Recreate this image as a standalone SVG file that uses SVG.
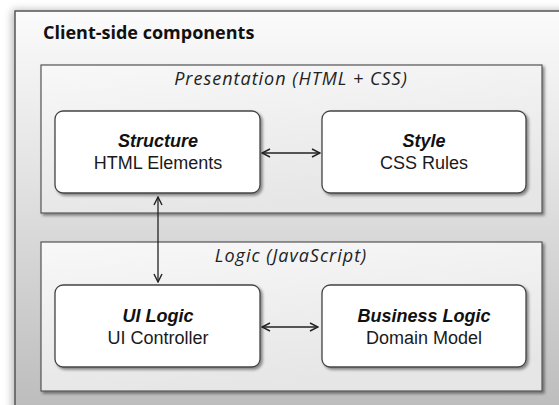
<svg xmlns="http://www.w3.org/2000/svg" width="559" height="405" viewBox="0 0 559 405">
<defs>
<linearGradient id="gOuter" gradientUnits="userSpaceOnUse" x1="0" y1="11" x2="0" y2="405">
<stop offset="0" stop-color="#fbfbfb"/>
<stop offset="0.4" stop-color="#e4e4e4"/>
<stop offset="1" stop-color="#bdbdbd"/>
</linearGradient>
<linearGradient id="gPanel" x1="0" y1="0" x2="0.3" y2="1">
<stop offset="0" stop-color="#f8f8f8"/>
<stop offset="1" stop-color="#e6e6e6"/>
</linearGradient>
<filter id="sh" x="-10%" y="-10%" width="130%" height="130%">
<feGaussianBlur in="SourceAlpha" stdDeviation="1.5"/>
<feOffset dx="2" dy="2" result="b"/>
<feComponentTransfer><feFuncA type="linear" slope="0.45"/></feComponentTransfer>
<feMerge><feMergeNode/><feMergeNode in="SourceGraphic"/></feMerge>
</filter>
<filter id="shOuter" x="-10%" y="-10%" width="130%" height="130%">
<feGaussianBlur in="SourceAlpha" stdDeviation="4"/>
<feOffset dx="-2" dy="0" result="b"/>
<feComponentTransfer><feFuncA type="linear" slope="0.3"/></feComponentTransfer>
<feMerge><feMergeNode/><feMergeNode in="SourceGraphic"/></feMerge>
</filter>
<marker id="ah" viewBox="0 0 10 10" refX="9" refY="5" markerWidth="10" markerHeight="10" markerUnits="userSpaceOnUse" orient="auto-start-reverse">
<path d="M1,1 L9,5 L1,9" fill="none" stroke="#222" stroke-width="1.4"/>
</marker>
</defs>
<style>
.outer{fill:url(#gOuter);stroke:#555;stroke-width:1.5}
.panel{fill:url(#gPanel);stroke:#555;stroke-width:1.2}
.node{fill:#fff;stroke:#444;stroke-width:1.3}
.title{font-family:"Open Sans","DejaVu Sans",sans-serif;font-weight:bold;font-size:18px;fill:#111}
.plabel{font-family:"Open Sans","DejaVu Sans",sans-serif;font-style:italic;font-size:18px;letter-spacing:1px;fill:#222;text-anchor:middle}
.nt1{font-family:"Liberation Sans",Arial,sans-serif;font-weight:bold;font-style:italic;font-size:18px;fill:#111;text-anchor:middle}
.nt2{font-family:"Liberation Sans",Arial,sans-serif;font-size:18px;fill:#1a1a1a;text-anchor:middle}
.conn{stroke:#222;stroke-width:1.3;fill:none;marker-start:url(#ah);marker-end:url(#ah)}
</style>
<rect width="559" height="405" fill="#ffffff"/>
<g id="outer">
<rect class="outer" x="15" y="11" width="560" height="410" filter="url(#shOuter)"/>
<text class="title" x="43" y="39">Client-side components</text>
</g>
<g id="presentation">
<rect class="panel" x="41" y="65" width="501" height="148" filter="url(#sh)"/>
<text class="plabel" x="291" y="85">Presentation (HTML + CSS)</text>
</g>
<g id="logic">
<rect class="panel" x="41" y="242" width="501" height="149" filter="url(#sh)"/>
<text class="plabel" x="291" y="262">Logic (JavaScript)</text>
</g>
<g id="structure">
<rect class="node" x="55" y="111" width="205" height="82" rx="8" filter="url(#sh)"/>
<text class="nt1" x="158" y="147">Structure</text>
<text class="nt2" x="158" y="169">HTML Elements</text>
</g>
<g id="style">
<rect class="node" x="322" y="111" width="204" height="82" rx="8" filter="url(#sh)"/>
<text class="nt1" x="424" y="147">Style</text>
<text class="nt2" x="424" y="169">CSS Rules</text>
</g>
<g id="uilogic">
<rect class="node" x="55" y="285" width="205" height="82" rx="8" filter="url(#sh)"/>
<text class="nt1" x="158" y="322">UI Logic</text>
<text class="nt2" x="158" y="344">UI Controller</text>
</g>
<g id="businesslogic">
<rect class="node" x="322" y="285" width="204" height="82" rx="8" filter="url(#sh)"/>
<text class="nt1" x="424" y="322">Business Logic</text>
<text class="nt2" x="424" y="344">Domain Model</text>
</g>
<g id="connectors">
<line class="conn" x1="262" y1="153" x2="320" y2="153"/>
<line class="conn" x1="158" y1="197" x2="158" y2="282"/>
<line class="conn" x1="262" y1="327" x2="318" y2="327"/>
</g>
</svg>
